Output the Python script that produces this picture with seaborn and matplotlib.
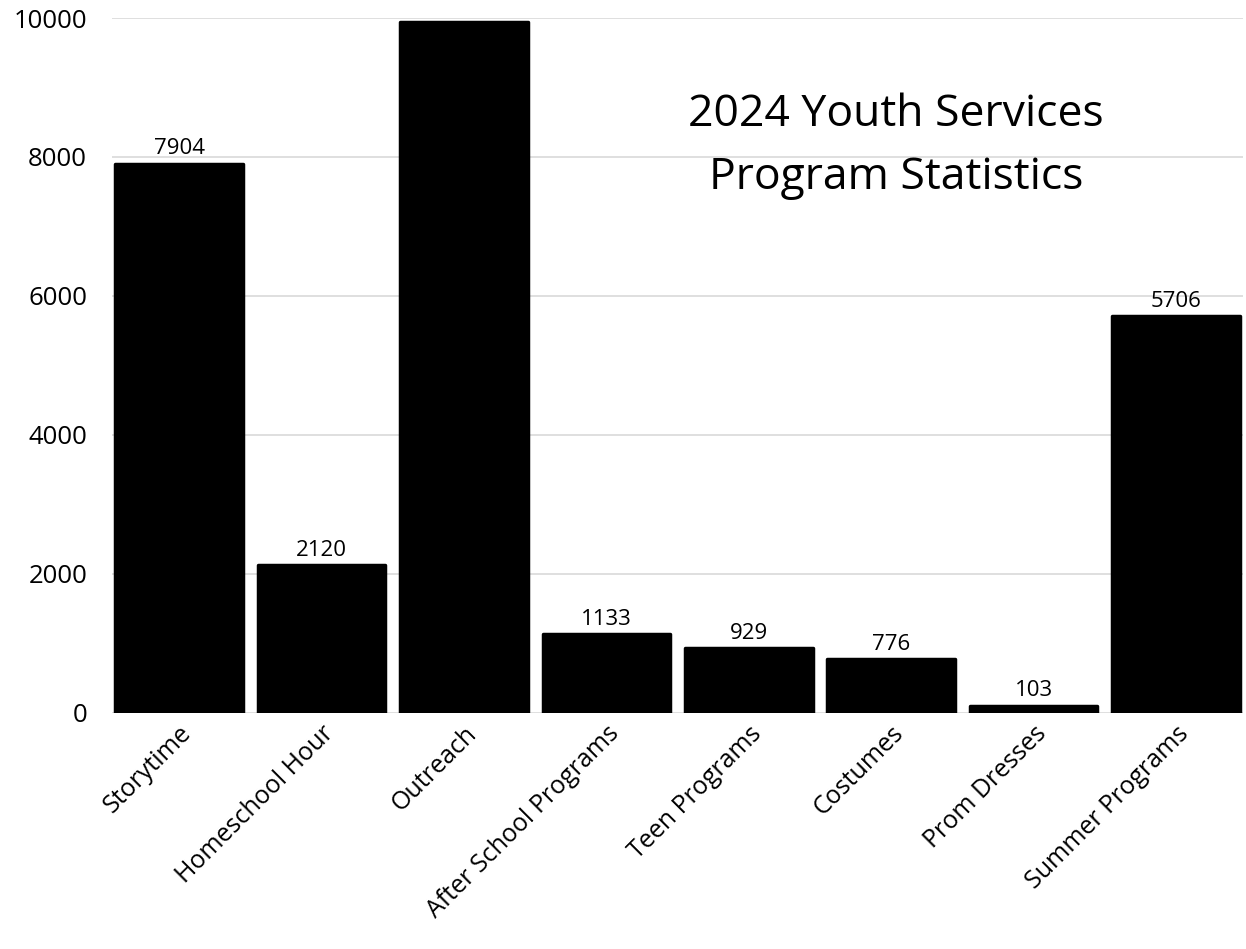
import pandas as pd
import seaborn as sns
import matplotlib
matplotlib.use("Agg")
import matplotlib.pyplot as plt

programs = ["Storytime", "Homeschool Hour", "Outreach", "After School Programs",
            "Teen Programs", "Costumes", "Prom Dresses", "Summer Programs"]
attendance = [7904, 2120, 9942, 1133, 929, 776, 103, 5706]
yticks = [0, 2000, 4000, 6000, 8000, 10000]

df = pd.DataFrame({"Program": programs, "Attendance": attendance})

sns.set_style("white")
plt.rcParams["font.family"] = ["Open Sans", "DejaVu Sans"]
plt.rcParams["text.color"] = "black"
plt.rcParams["xtick.color"] = "black"
plt.rcParams["ytick.color"] = "black"

fig = plt.figure(figsize=(12.46, 9.49), dpi=100)
ax = fig.add_axes([0.09, 0.249, 0.9076, 0.732])

sns.barplot(data=df, x="Program", y="Attendance", color="black",
            saturation=1, width=0.895, ax=ax, zorder=3)
for bar in ax.patches:
    bar.set_edgecolor("black")
    bar.set_linewidth(2.5)
    bar.set_joinstyle("round")

ax.set_ylim(0, 10000)
# the label of the tallest bar falls above the plot area in the original, so it is not shown
bar_text = [str(v) if v < 9500 else "" for v in attendance]
ax.bar_label(ax.containers[0], labels=bar_text, padding=3, fontsize=16)

ax.set_xlim(-0.47, 7.47)
ax.set_yticks(yticks)
ax.yaxis.grid(True, color="#d9d9d9", linewidth=1.2, zorder=0)
ax.set_axisbelow(True)
for s in ax.spines.values():
    s.set_visible(False)
ax.tick_params(axis="y", labelsize=18.5, length=0, pad=18)
ax.tick_params(axis="x", labelsize=18, length=0, pad=6)
plt.setp(ax.get_xticklabels(), rotation=45, ha="right", rotation_mode="anchor")
ax.set_xlabel("")
ax.set_ylabel("")

ax.text(0.693, 0.815, "2024 Youth Services\nProgram Statistics", transform=ax.transAxes,
        ha="center", va="center", fontsize=32, linespacing=1.55)

fig.savefig("out.png", dpi=100)
